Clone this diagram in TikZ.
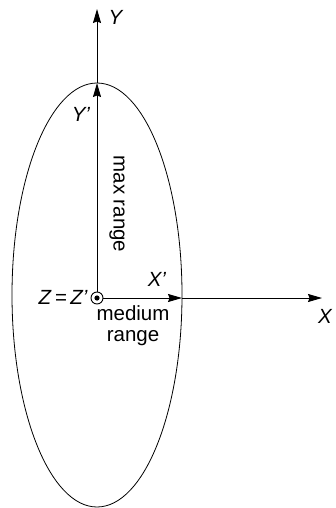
\documentclass[tikz,border=0pt]{standalone}
\usepackage{fontspec}
\setmainfont{Liberation Sans}
\usetikzlibrary{arrows.meta}
\begin{document}
\begin{tikzpicture}[x=1pt,y=-1pt,
  axis/.style={line width=0.9pt,-{Stealth[length=14pt,width=8pt,inset=1.5pt]}},
  lbl/.style={inner sep=0pt,font=\fontsize{20.5}{21}\selectfont},
  every node/.style={text=black}]
\useasboundingbox (0,0) rectangle (335,508);
% ellipse
\draw[line width=0.8pt] (97,295) ellipse [x radius=85, y radius=212];
% origin symbol
\node[circle,draw,line width=0.9pt,minimum size=12pt,inner sep=0pt] (O) at (97,298) {};
\fill (O.center) circle (2.6pt);
\coordinate (Ytop) at (97,83);
\coordinate (Yend) at (97,9);
\coordinate (Xr) at (182,298);
\coordinate (Xend) at (322,298);
\draw[axis] (O.north) -- (Ytop);
\draw[axis] (Ytop) -- (Yend);
\draw[axis] (O.east) -- (Xr);
\draw[axis] (Xr) -- (Xend);
% labels
\node[lbl] (Y) at (116,17) {\textit{Y}};
\node[lbl] (Yp) at (81,114) {\textit{Y'}};
\node[lbl] (Xp) at (157,279) {\textit{X'}};
\node[lbl,anchor=west] (X) at (318,316) {\textit{X}};
\node[lbl,anchor=east] (Z) at (88,297) {\textit{Z}\,=\,\textit{Z'}};
\node[lbl,rotate=-90] (max) at (117,204) {max range};
\node[lbl,align=center] (med) at (133,326) {medium\\range};
\end{tikzpicture}
\end{document}
